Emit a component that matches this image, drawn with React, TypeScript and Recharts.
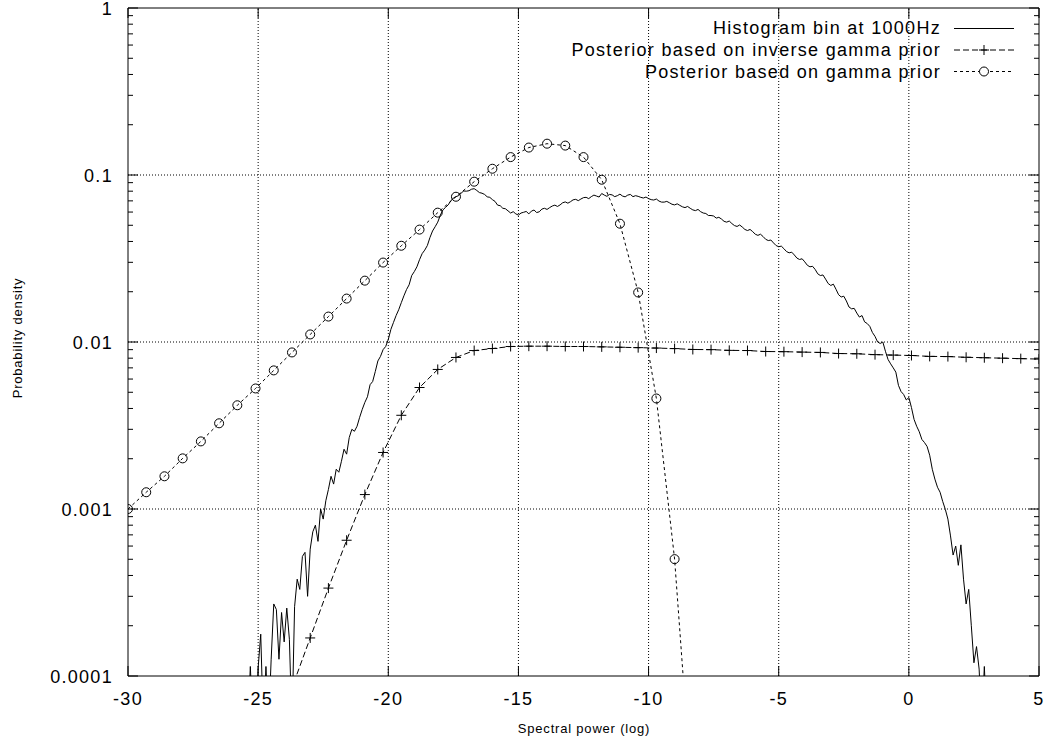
import React from 'react';
import { LineChart, Line, XAxis, YAxis, ReferenceLine } from 'recharts';

const FONT = "'Liberation Sans', Arial, Helvetica, sans-serif";

const xTicks = [-30, -25, -20, -15, -10, -5, 0, 5];
const xTickLabels = ['-30', '-25', '-20', '-15', '-10', '-5', '0', '5'];
const yMajorTicks = [0.0001, 0.001, 0.01, 0.1, 1];
const yTickLabels = ['0.0001', '0.001', '0.01', '0.1', '1'];
const yMinorFactors = [2, 3, 4, 5, 6, 7, 8, 9];
const xGrid = [-25, -20, -15, -10, -5, 0];
const yGrid = [0.001, 0.01, 0.1];

const legendLabels = [
  'Histogram bin at 1000Hz',
  'Posterior based on inverse gamma prior',
  'Posterior based on gamma prior',
];

// Histogram bin at 1000Hz : [spectral power (log), density]
const histogram: [number, number][] = [
  [-25.4, 0.00005], [-25.3, 0.000114], [-25.2, 0.00005], [-25.1, 0.00005], [-25.0, 0.000112],
  [-24.9, 0.000178], [-24.8, 0.00005], [-24.7, 0.000114], [-24.6, 0.00005], [-24.5, 0.000126],
  [-24.4, 0.00027], [-24.3, 0.00025], [-24.2, 0.000126], [-24.1, 0.00024], [-24.0, 0.00016],
  [-23.9, 0.000255], [-23.8, 0.000166], [-23.7, 0.00005], [-23.6, 0.00026], [-23.5, 0.00038],
  [-23.4, 0.00033], [-23.3, 0.00052], [-23.2, 0.00055], [-23.1, 0.0003], [-23.0, 0.000575],
  [-22.9, 0.00073], [-22.8, 0.0008], [-22.7, 0.00064], [-22.6, 0.001], [-22.5, 0.00087],
  [-22.4, 0.00112], [-22.3, 0.00131], [-22.2, 0.00157], [-22.1, 0.00141], [-22.0, 0.00173],
  [-21.9, 0.00166], [-21.8, 0.00193], [-21.7, 0.00228], [-21.6, 0.00213], [-21.5, 0.00268],
  [-21.4, 0.003], [-21.3, 0.00292], [-21.2, 0.00313], [-21.1, 0.00354], [-21.0, 0.00395],
  [-20.9, 0.00435], [-20.8, 0.0047], [-20.7, 0.00555], [-20.6, 0.0058], [-20.5, 0.00665],
  [-20.4, 0.0077], [-20.3, 0.0082], [-20.2, 0.009], [-20.1, 0.0094], [-20.0, 0.01035],
  [-19.9, 0.0119], [-19.8, 0.0131], [-19.7, 0.0144], [-19.6, 0.0156], [-19.5, 0.0172],
  [-19.4, 0.0189], [-19.3, 0.0206], [-19.2, 0.022], [-19.1, 0.025], [-19.0, 0.0264],
  [-18.9, 0.0282], [-18.8, 0.0311], [-18.7, 0.0338], [-18.6, 0.0355], [-18.5, 0.0378],
  [-18.4, 0.0422], [-18.3, 0.0462], [-18.2, 0.049], [-18.1, 0.0522], [-18.0, 0.0575],
  [-17.9, 0.0618], [-17.8, 0.064], [-17.7, 0.0662], [-17.6, 0.07], [-17.5, 0.0728],
  [-17.4, 0.0742], [-17.3, 0.0752], [-17.2, 0.078], [-17.1, 0.0802], [-17.0, 0.08],
  [-16.9, 0.0805], [-16.8, 0.0822], [-16.7, 0.0828], [-16.6, 0.0808], [-16.5, 0.0785],
  [-16.4, 0.0778], [-16.3, 0.0765], [-16.2, 0.074], [-16.1, 0.0735], [-16.0, 0.0712],
  [-15.9, 0.0695], [-15.8, 0.066], [-15.7, 0.0655], [-15.6, 0.0632], [-15.5, 0.0628],
  [-15.4, 0.061], [-15.3, 0.0592], [-15.2, 0.0603], [-15.1, 0.0585], [-15.0, 0.0575],
  [-14.9, 0.0592], [-14.8, 0.0598], [-14.7, 0.0605], [-14.6, 0.0585], [-14.5, 0.0608],
  [-14.4, 0.0617], [-14.3, 0.0596], [-14.2, 0.0602], [-14.1, 0.0625], [-14.0, 0.0632],
  [-13.9, 0.0622], [-13.8, 0.0638], [-13.7, 0.0652], [-13.6, 0.066], [-13.5, 0.0648],
  [-13.4, 0.0662], [-13.3, 0.0682], [-13.2, 0.069], [-13.1, 0.0678], [-13.0, 0.0692],
  [-12.9, 0.071], [-12.8, 0.0715], [-12.7, 0.0702], [-12.6, 0.0718], [-12.5, 0.0732],
  [-12.4, 0.0735], [-12.3, 0.0722], [-12.2, 0.0742], [-12.1, 0.0758], [-12.0, 0.0748],
  [-11.9, 0.0738], [-11.8, 0.0775], [-11.7, 0.0758], [-11.6, 0.0745], [-11.5, 0.0765],
  [-11.4, 0.076], [-11.3, 0.0742], [-11.2, 0.0752], [-11.1, 0.0768], [-11.0, 0.0748],
  [-10.9, 0.074], [-10.8, 0.0758], [-10.7, 0.0765], [-10.6, 0.0742], [-10.5, 0.0752],
  [-10.4, 0.0745], [-10.3, 0.0735], [-10.2, 0.0728], [-10.1, 0.0738], [-10.0, 0.0722],
  [-9.9, 0.0712], [-9.8, 0.0708], [-9.7, 0.0718], [-9.6, 0.0698], [-9.5, 0.0688],
  [-9.4, 0.0688], [-9.3, 0.0695], [-9.2, 0.0682], [-9.1, 0.0668], [-9.0, 0.0662],
  [-8.9, 0.0672], [-8.8, 0.0658], [-8.7, 0.0645], [-8.6, 0.0638], [-8.5, 0.0648],
  [-8.4, 0.0632], [-8.3, 0.0618], [-8.2, 0.0612], [-8.1, 0.0622], [-8.0, 0.0603],
  [-7.9, 0.0592], [-7.8, 0.0588], [-7.7, 0.0572], [-7.6, 0.0572], [-7.5, 0.0568],
  [-7.4, 0.0552], [-7.3, 0.0558], [-7.2, 0.0545], [-7.1, 0.0528], [-7.0, 0.0522],
  [-6.9, 0.053], [-6.8, 0.0512], [-6.7, 0.0498], [-6.6, 0.0492], [-6.5, 0.0502],
  [-6.4, 0.0488], [-6.3, 0.0472], [-6.2, 0.0465], [-6.1, 0.0472], [-6.0, 0.0458],
  [-5.9, 0.0442], [-5.8, 0.0435], [-5.7, 0.0442], [-5.6, 0.0428], [-5.5, 0.0412],
  [-5.4, 0.0405], [-5.3, 0.0408], [-5.2, 0.0392], [-5.1, 0.0378], [-5.0, 0.0372],
  [-4.9, 0.0375], [-4.8, 0.0362], [-4.7, 0.0348], [-4.6, 0.0342], [-4.5, 0.0345],
  [-4.4, 0.0332], [-4.3, 0.0318], [-4.2, 0.0312], [-4.1, 0.0315], [-4.0, 0.0302],
  [-3.9, 0.0288], [-3.8, 0.0282], [-3.7, 0.0284], [-3.6, 0.0272], [-3.5, 0.0256],
  [-3.4, 0.025], [-3.3, 0.0252], [-3.2, 0.0238], [-3.1, 0.0224], [-3.0, 0.0218],
  [-2.9, 0.0222], [-2.8, 0.0207], [-2.7, 0.0192], [-2.6, 0.0186], [-2.5, 0.0188],
  [-2.4, 0.0176], [-2.3, 0.0162], [-2.2, 0.0158], [-2.1, 0.0159], [-2.0, 0.0149],
  [-1.9, 0.0141], [-1.8, 0.0144], [-1.7, 0.0132], [-1.6, 0.0129], [-1.5, 0.0124],
  [-1.4, 0.0114], [-1.3, 0.0108], [-1.2, 0.01], [-1.1, 0.0098], [-1.0, 0.01],
  [-0.9, 0.0088], [-0.8, 0.00786], [-0.7, 0.0074], [-0.6, 0.007], [-0.5, 0.0066],
  [-0.4, 0.0055], [-0.3, 0.00505], [-0.2, 0.00485], [-0.1, 0.0045], [0.0, 0.00465],
  [0.1, 0.00405], [0.2, 0.00344], [0.3, 0.00313], [0.4, 0.0029], [0.5, 0.00261],
  [0.6, 0.0025], [0.7, 0.00237], [0.8, 0.0021], [0.9, 0.00173], [1.0, 0.00151],
  [1.1, 0.00135], [1.2, 0.00126], [1.3, 0.00111], [1.4, 0.000996], [1.5, 0.00087],
  [1.6, 0.00069], [1.7, 0.00053], [1.8, 0.0006], [1.9, 0.00046], [2.0, 0.00061],
  [2.1, 0.00038], [2.2, 0.00027], [2.3, 0.00033], [2.4, 0.0002], [2.5, 0.00012],
  [2.6, 0.00015], [2.7, 0.00011], [2.8, 0.00005], [2.9, 0.000114], [3.0, 0.00005],
];

// sample positions of both posteriors
const sampleX = [
  -30, -29.3, -28.6, -27.9, -27.2, -26.5, -25.8, -25.1, -24.4, -23.7,
  -23, -22.3, -21.6, -20.9, -20.2, -19.5, -18.8, -18.1, -17.4, -16.7,
  -16, -15.3, -14.6, -13.9, -13.2, -12.5, -11.8, -11.1, -10.4, -9.7,
  -9, -8.3, -7.6, -6.9, -6.2, -5.5, -4.8, -4.1, -3.4, -2.7,
  -2, -1.3, -0.6, 0.1, 0.8, 1.5, 2.2, 2.9, 3.6, 4.3, 5,
];

// Posterior based on gamma prior (from sampleX[0])
const gammaY = [
  0.001, 0.00126, 0.00157, 0.00201, 0.00254, 0.00326, 0.00418, 0.00527, 0.00676, 0.00866,
  0.0111, 0.0142, 0.0182, 0.0233, 0.0299, 0.0377, 0.0471, 0.0595, 0.0741, 0.0912,
  0.109, 0.128, 0.146, 0.154, 0.15, 0.128, 0.0937, 0.0511, 0.0198, 0.00459,
  0.000501, 0.000016,
];

// Posterior based on inverse gamma prior (from sampleX[8])
const invGammaStart = 8;
const invGammaY = [
  0.00004, 0.000085, 0.000169, 0.000336, 0.00065, 0.00122, 0.00218, 0.00364, 0.00534, 0.00685,
  0.00808, 0.00889, 0.00914, 0.0094, 0.00944, 0.00944, 0.0094, 0.0094, 0.00935, 0.0093,
  0.00925, 0.0092, 0.00913, 0.00902, 0.009, 0.00891, 0.00889, 0.00877, 0.00875, 0.0087,
  0.00866, 0.00853, 0.0085, 0.0084, 0.00835, 0.0083, 0.0082, 0.00818, 0.0081, 0.00805,
  0.008, 0.00795, 0.0079,
];

const histData = histogram.map(([x, y]) => ({ x, y }));
const gammaData = gammaY.map((y, i) => ({ x: sampleX[i], y }));
const invGammaData = invGammaY.map((y, i) => ({ x: sampleX[i + invGammaStart], y }));

const yAllTicks: number[] = [...yMajorTicks];
yMajorTicks.slice(0, 4).forEach((d) => yMinorFactors.forEach((f) => yAllTicks.push(d * f)));

const isMajorY = (v: number) => yMajorTicks.indexOf(v);

const LeftTick = (props: any) => {
  const { x, y, payload } = props;
  const idx = isMajorY(payload.value);
  const len = idx >= 0 ? 10 : 5;
  return (
    <g>
      <line x1={x} y1={y} x2={x + len} y2={y} stroke="#000" strokeWidth={1} />
      {idx >= 0 && (
        <text x={x - 15} y={y} dy="0.37em" textAnchor="end" fontFamily={FONT} fontSize={18}
          letterSpacing={1.3} fill="#000">
          {yTickLabels[idx]}
        </text>
      )}
    </g>
  );
};

const RightTick = (props: any) => {
  const { x, y, payload } = props;
  const idx = isMajorY(payload.value);
  const len = idx >= 0 ? 10 : 5;
  return <line x1={x} y1={y} x2={x - len} y2={y} stroke="#000" strokeWidth={1} />;
};

const BottomTick = (props: any) => {
  const { x, y, payload } = props;
  const idx = xTicks.indexOf(payload.value);
  return (
    <g>
      <line x1={x} y1={y} x2={x} y2={y - 10} stroke="#000" strokeWidth={1} />
      <text x={x} y={y + 29} textAnchor="middle" fontFamily={FONT} fontSize={18}
        letterSpacing={1.3} fill="#000">
        {idx >= 0 ? xTickLabels[idx] : ''}
      </text>
    </g>
  );
};

const TopTick = (props: any) => {
  const { x, y } = props;
  return <line x1={x} y1={y} x2={x} y2={y + 10} stroke="#000" strokeWidth={1} />;
};

const CircleDot = (props: any) => {
  const { cx, cy, index } = props;
  if (cx == null || cy == null || isNaN(cy)) return <g key={`c${index}`} />;
  return <circle key={`c${index}`} cx={cx} cy={cy} r={4.5} fill="none" stroke="#000" strokeWidth={1} />;
};

const PlusDot = (props: any) => {
  const { cx, cy, index } = props;
  if (cx == null || cy == null || isNaN(cy)) return <g key={`p${index}`} />;
  return (
    <path key={`p${index}`} d={`M${cx - 5},${cy}H${cx + 5}M${cx},${cy - 5}V${cy + 5}`}
      stroke="#000" strokeWidth={1} fill="none" />
  );
};

const legendRows = [
  { lineY: 28.5, textY: 34, dash: undefined as string | undefined, marker: 'none' },
  { lineY: 50, textY: 56, dash: '6 3', marker: 'plus' },
  { lineY: 71.5, textY: 77.5, dash: '3 3', marker: 'circle' },
];

export default function App() {
  return (
    <div style={{ position: 'absolute', left: 0, top: 0, width: 1046, height: 744, background: '#fff' }}>
      <LineChart width={1046} height={744} margin={{ top: 7, right: 6, bottom: 67, left: 0 }}>
        <XAxis xAxisId="b" type="number" dataKey="x" domain={[-30, 5]} ticks={xTicks} interval={0}
          allowDataOverflow orientation="bottom" height={1} tickSize={0} tickMargin={0}
          tickLine={false} axisLine={{ stroke: '#000' }} tick={<BottomTick />} />
        <XAxis xAxisId="t" type="number" dataKey="x" domain={[-30, 5]} ticks={xTicks} interval={0}
          allowDataOverflow orientation="top" height={1} tickSize={0} tickMargin={0}
          tickLine={false} axisLine={{ stroke: '#000' }} tick={<TopTick />} />
        <YAxis yAxisId="l" type="number" scale="log" domain={[0.0001, 1]} ticks={yAllTicks} interval={0}
          allowDataOverflow orientation="left" width={128} tickSize={0} tickMargin={0}
          tickLine={false} axisLine={{ stroke: '#000' }} tick={<LeftTick />} />
        <YAxis yAxisId="r" type="number" scale="log" domain={[0.0001, 1]} ticks={yAllTicks} interval={0}
          allowDataOverflow orientation="right" width={1} tickSize={0} tickMargin={0}
          tickLine={false} axisLine={{ stroke: '#000' }} tick={<RightTick />} />
        {xGrid.map((v) => (
          <ReferenceLine key={`gx${v}`} x={v} xAxisId="b" yAxisId="l" stroke="#000"
            strokeDasharray="1 2" strokeWidth={1} />
        ))}
        {yGrid.map((v) => (
          <ReferenceLine key={`gy${v}`} y={v} xAxisId="b" yAxisId="l" stroke="#000"
            strokeDasharray="1 2" strokeWidth={1} />
        ))}
        <Line data={histData} dataKey="y" xAxisId="b" yAxisId="l" type="linear" stroke="#000"
          strokeWidth={1} dot={false} activeDot={false} isAnimationActive={false} />
        <Line data={invGammaData} dataKey="y" xAxisId="b" yAxisId="l" type="linear" stroke="#000"
          strokeWidth={1} strokeDasharray="6 3" dot={PlusDot} activeDot={false} isAnimationActive={false} />
        <Line data={gammaData} dataKey="y" xAxisId="b" yAxisId="l" type="linear" stroke="#000"
          strokeWidth={1} strokeDasharray="3 3" dot={CircleDot} activeDot={false} isAnimationActive={false} />
      </LineChart>
      <svg width={1046} height={744}
        style={{ position: 'absolute', left: 0, top: 0, pointerEvents: 'none' }}>
        <text transform="translate(22,338) rotate(-90)" textAnchor="middle" fontFamily={FONT}
          fontSize={13} letterSpacing={0.8} fill="#000">Probability density</text>
        <text x={584} y={733} textAnchor="middle" fontFamily={FONT} fontSize={13}
          letterSpacing={0.8} fill="#000">Spectral power (log)</text>
        {legendRows.map((r, i) => (
          <g key={`lg${i}`}>
            <text x={941} y={r.textY} textAnchor="end" fontFamily={FONT} fontSize={18}
              letterSpacing={1.3} fill="#000">{legendLabels[i]}</text>
            <line x1={954} y1={r.lineY} x2={1014} y2={r.lineY} stroke="#000" strokeWidth={1}
              strokeDasharray={r.dash} />
            {r.marker === 'plus' && (
              <path d={`M979,${r.lineY}H989M984,${r.lineY - 5}V${r.lineY + 5}`} stroke="#000"
                strokeWidth={1} fill="none" />
            )}
            {r.marker === 'circle' && (
              <circle cx={984} cy={r.lineY} r={4.5} fill="#fff" stroke="#000" strokeWidth={1} />
            )}
          </g>
        ))}
      </svg>
    </div>
  );
}
